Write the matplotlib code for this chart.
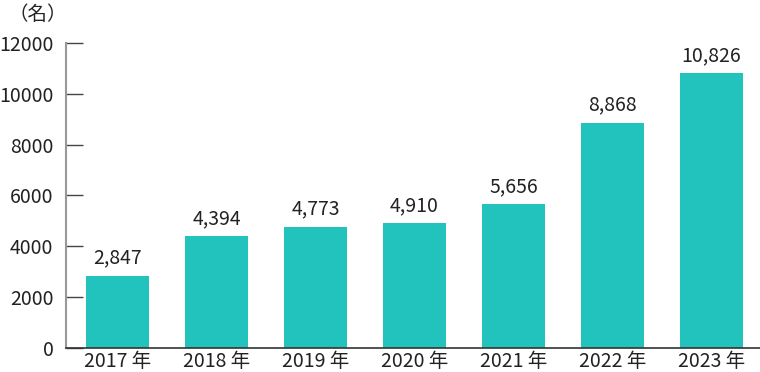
import matplotlib
matplotlib.use("Agg")
import matplotlib.pyplot as plt

plt.rcParams['font.family'] = ['Noto Sans CJK JP', 'DejaVu Sans']

categories = ["2017 年", "2018 年", "2019 年", "2020 年", "2021 年", "2022 年", "2023 年"]
values = [2847, 4394, 4773, 4910, 5656, 8868, 10826]
yticks = [0, 2000, 4000, 6000, 8000, 10000, 12000]
unit_label = "（名）"

fig = plt.figure(figsize=(7.6, 3.72), dpi=100)
ax = fig.add_axes([66/760, 1-348/372, 1-66/760, (348-43)/372])

x = list(range(len(categories)))
bars = ax.bar(x, values, width=0.64, color="#23C3BD", zorder=2)
for xi, v in zip(x, values):
    ax.annotate(f"{v:,}", (xi, v), xytext=(0, 5), textcoords="offset points",
                ha="center", va="bottom", fontsize=14, color="#222222")

ax.set_xlim(-0.52, 6.49)
ax.set_ylim(0, 12000)
ax.set_yticks(yticks)
ax.set_yticklabels([str(t) for t in yticks], fontsize=14, color="#222222")
ax.set_xticks(x)
ax.set_xticklabels(categories, fontsize=14, color="#222222")
ax.tick_params(axis="y", direction="in", length=12, width=1, color="#444444", pad=9)
ax.tick_params(axis="x", length=0, pad=2)

for s in ["top", "right"]:
    ax.spines[s].set_visible(False)
ax.spines["left"].set_color("#999999")
ax.spines["left"].set_linewidth(1.5)
ax.spines["bottom"].set_color("#333333")
ax.spines["bottom"].set_linewidth(1.2)

fig.text(8/760, 1-14/372, unit_label, fontsize=14, color="#222222", ha="left", va="center")

fig.savefig("out.png", dpi=100)
